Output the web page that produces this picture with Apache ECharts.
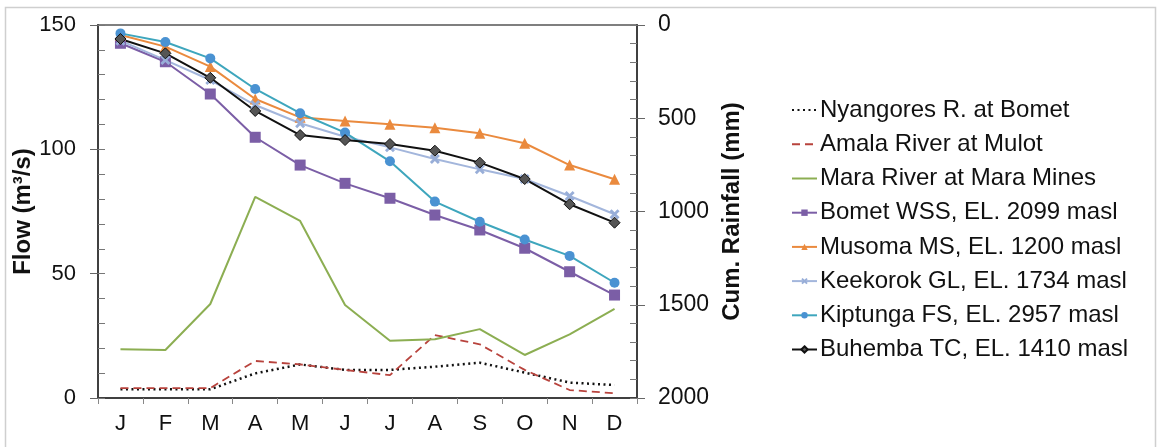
<!DOCTYPE html>
<html>
<head>
<meta charset="utf-8">
<script src="https://cdn.jsdelivr.net/npm/echarts@6/dist/echarts.min.js"></script>
<style>
html,body{margin:0;padding:0;background:#fff;}
#c{width:1158px;height:447px;}
</style>
</head>
<body>
<div id="c"></div>
<script>
const months = ['J','F','M','A','M','J','J','A','S','O','N','D'];
const flowTicks = [0, 50, 100, 150];
const rainTicks = [0, 500, 1000, 1500, 2000];

// Flow (m3/s), left axis
const nyangores = [3.5, 3.5, 3.5, 9.9, 13.5, 11.3, 11.3, 12.6, 14.2, 10.2, 6.2, 5.2];
const amala     = [4.0, 4.0, 4.0, 14.9, 13.5, 11.3, 9.2, 25.3, 21.6, 11.3, 3.2, 1.9];
const mara      = [19.6, 19.3, 37.8, 80.9, 71.2, 37.4, 23.0, 23.6, 27.7, 17.3, 25.6, 35.8];

// Cumulative rainfall (mm), right axis (inverted)
const bomet    = [98, 197, 370, 602, 751, 849, 929, 1019, 1099, 1197, 1323, 1448];
const musoma   = [54, 116, 223, 397, 495, 515, 532, 551, 581, 634, 751, 827];
const keekorok = [84, 188, 295, 429, 527, 599, 656, 718, 774, 826, 917, 1015];
const kiptunga = [45, 91, 179, 343, 473, 577, 731, 947, 1055, 1150, 1238, 1382];
const buhemba  = [75, 152, 283, 461, 590, 617, 638, 674, 738, 826, 961, 1060];

const seriesNames = ['Nyangores R. at Bomet','Amala River at Mulot','Mara River at Mara Mines','Bomet WSS, EL. 2099 masl','Musoma MS, EL. 1200 masl','Keekorok GL, EL. 1734 masl','Kiptunga FS, EL. 2957 masl','Buhemba TC, EL. 1410 masl'];

const FONT = "'Liberation Sans', Arial, sans-serif";
const crossPath = 'path://M2,0 L5,3 L8,0 L10,2 L7,5 L10,8 L8,10 L5,7 L2,10 L0,8 L3,5 L0,2 Z';

const chart = echarts.init(document.getElementById('c'), null, {renderer: 'canvas'});
const axisCol = '#404040';

chart.setOption({
  animation: false,
  backgroundColor: '#fff',
  textStyle: {fontFamily: FONT},
  graphic: [{
    type: 'rect', left: 3, top: 5, z: -1,
    shape: {width: 1150, height: 450},
    style: {fill: 'none', stroke: '#cfcfcf', lineWidth: 1.5}
  }],
  grid: {left: 98, right: 521, top: 25, bottom: 49, show: true, borderColor: '#555', borderWidth: 1.5, backgroundColor: 'transparent'},
  legend: {
    orient: 'vertical', left: 786, top: 88,
    itemWidth: 25, itemHeight: 8, itemGap: 0,
    textStyle: {fontSize: 24, color: '#111', fontFamily: FONT, lineHeight: 34.2, padding: [0, 0, 0, -2]},
    data: seriesNames.map((n, i) => i < 3 ? {name: n, itemStyle: {opacity: 0}} : {name: n})
  },
  xAxis: {
    type: 'category', data: months, boundaryGap: true,
    axisLine: {lineStyle: {color: axisCol, width: 2}},
    axisTick: {show: true, length: 6, lineStyle: {color: '#888'}},
    axisLabel: {fontSize: 22, color: '#111', margin: 15, fontFamily: FONT},
    splitLine: {show: false}
  },
  yAxis: [
    {
      type: 'value', position: 'left', min: 0, max: 150, interval: 10,
      name: 'Flow (m³/s)', nameLocation: 'middle', nameRotate: 90, nameGap: 62,
      nameTextStyle: {fontSize: 24, fontWeight: 'bold', color: '#111', fontFamily: FONT},
      axisLine: {show: true, lineStyle: {color: axisCol, width: 2}},
      axisTick: {show: true, inside: true, length: 7, lineStyle: {color: '#777'}},
      axisLabel: {fontSize: 22, color: '#111', margin: 22, fontFamily: FONT,
        formatter: v => (flowTicks.indexOf(v) >= 0 ? String(v) : '')},
      splitLine: {show: false}
    },
    {
      type: 'value', position: 'right', min: 0, max: 2000, interval: 100, inverse: true,
      name: 'Cum. Rainfall (mm)', nameLocation: 'middle', nameRotate: 90, nameGap: 83,
      nameTextStyle: {fontSize: 24, fontWeight: 'bold', color: '#111', fontFamily: FONT},
      axisLine: {show: true, lineStyle: {color: axisCol, width: 2}},
      axisTick: {show: true, inside: true, length: 7, lineStyle: {color: '#777'}},
      axisLabel: {fontSize: 23, color: '#111', margin: 21, fontFamily: FONT,
        formatter: v => (rainTicks.indexOf(v) >= 0 ? String(v) : '')},
      splitLine: {show: false}
    },
    {
      type: 'value', position: 'left', min: 0, max: 150, interval: 50,
      axisLine: {show: false}, axisLabel: {show: false}, splitLine: {show: false},
      axisTick: {show: true, inside: false, length: 8, lineStyle: {color: '#666'}}
    },
    {
      type: 'value', position: 'right', min: 0, max: 2000, interval: 500, inverse: true,
      axisLine: {show: false}, axisLabel: {show: false}, splitLine: {show: false},
      axisTick: {show: true, inside: false, length: 8, lineStyle: {color: '#666'}}
    }
  ],
  series: [
    {name: seriesNames[0], type: 'line', yAxisIndex: 0, data: nyangores, symbol: 'none',
      color: '#111', lineStyle: {color: '#111', width: 2.5, type: [2, 3.5]}},
    {name: seriesNames[1], type: 'line', yAxisIndex: 0, data: amala, symbol: 'none',
      color: '#b8433d', lineStyle: {color: '#b8433d', width: 1.8, type: [8, 5]}},
    {name: seriesNames[2], type: 'line', yAxisIndex: 0, data: mara, symbol: 'none',
      color: '#8cae52', lineStyle: {color: '#8cae52', width: 2}},
    {name: seriesNames[3], type: 'line', yAxisIndex: 1, data: bomet, symbol: 'rect', symbolSize: 11,
      color: '#7b5ea6', itemStyle: {color: '#7b5ea6'}, lineStyle: {color: '#7b5ea6', width: 2}},
    {name: seriesNames[4], type: 'line', yAxisIndex: 1, data: musoma, symbol: 'triangle', symbolSize: 11,
      color: '#ea8a3e', itemStyle: {color: '#ea8a3e'}, lineStyle: {color: '#ea8a3e', width: 2}},
    {name: seriesNames[5], type: 'line', yAxisIndex: 1, data: keekorok, symbol: crossPath, symbolSize: 10,
      color: '#98aed8', itemStyle: {color: '#98aed8'}, lineStyle: {color: '#a3b6dc', width: 2}},
    {name: seriesNames[6], type: 'line', yAxisIndex: 1, data: kiptunga, symbol: 'circle', symbolSize: 10,
      color: '#4a92d2', itemStyle: {color: '#4a92d2'}, lineStyle: {color: '#3ea6bd', width: 2}},
    {name: seriesNames[7], type: 'line', yAxisIndex: 1, data: buhemba, symbol: 'diamond', symbolSize: 11,
      color: '#555', itemStyle: {color: '#555', borderColor: '#111', borderWidth: 1}, lineStyle: {color: '#111', width: 2}}
  ]
});
</script>
</body>
</html>
